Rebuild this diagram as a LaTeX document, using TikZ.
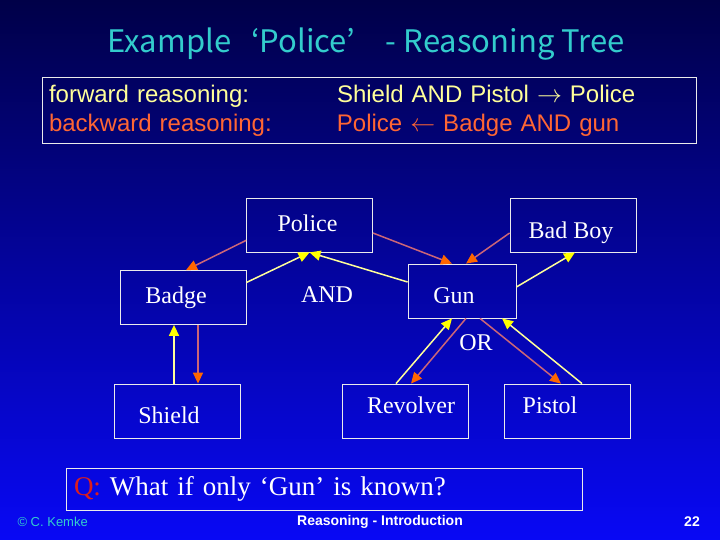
\documentclass[tikz,border=0pt]{standalone}
\usepackage{fontspec}
\setmainfont{Liberation Serif}
\setsansfont{Liberation Sans}
\newfontfamily\jpfont{Noto Sans CJK JP}
\usetikzlibrary{arrows.meta}
\definecolor{slidetop}{RGB}{0,0,72}
\definecolor{slidebot}{RGB}{8,8,245}
\definecolor{titlecyan}{RGB}{51,204,204}
\definecolor{fwdtext}{RGB}{255,255,153}
\definecolor{bwdtext}{RGB}{255,102,51}
\definecolor{fwdline}{RGB}{255,255,153}
\definecolor{fwdhead}{RGB}{255,255,0}
\definecolor{bwdline}{RGB}{204,102,119}
\definecolor{bwdhead}{RGB}{255,102,0}
\definecolor{qred}{RGB}{220,30,30}
% label moved inside its box: dx, dy, text
\newcommand{\nudge}[3]{\raisebox{#2}{\makebox[0pt]{\hspace*{#1}\hspace*{#1}#3}}}

\begin{document}
\begin{tikzpicture}[x=1pt, y=-1pt,
  box/.style={draw=white!92!black, line width=0.8pt, minimum width=126pt,
    minimum height=54pt, inner sep=0pt, text height=17pt, text depth=5pt,
    text=white, font=\fontsize{24}{28}\selectfont},
  op/.style={text=white, font=\fontsize{24}{28}\selectfont},
  fwdarr/.style={draw=fwdline, line width=1.5pt, -{Triangle[length=11pt,width=10pt,color=fwdhead]}},
  bwdarr/.style={draw=bwdline, line width=1.5pt, -{Triangle[length=11pt,width=10pt,color=bwdhead]}}]
  % Background
  \shade[top color=slidetop, bottom color=slidebot] (0,0) rectangle (720,540);
  \useasboundingbox (0,0) rectangle (720,540);

  % Define nodes
  \node[text=titlecyan, font=\jpfont\fontsize{31}{36}\selectfont] (title) at (366,44)
    {Example\hspace{20pt}‘Police’\hspace{30pt}-\hspace{8pt}Reasoning Tree};
  \node[draw=white!92!black, line width=0.8pt, minimum width=654pt, minimum height=65pt,
    inner sep=7pt, text width=640pt, align=left,
    font=\sffamily\fontsize{24}{29}\selectfont] (rules) at (369,110.5)
    {\color{fwdtext}\makebox[288pt][l]{forward reasoning:}Shield AND Pistol $\rightarrow$ Police\\
     \color{bwdtext}\makebox[288pt][l]{backward reasoning:}Police $\leftarrow$ Badge AND gun};

  \node[box] (police) at (309.5,225) {\nudge{-2pt}{0pt}{Police}};
  \node[box] (badboy) at (573,225) {\nudge{-2pt}{-8pt}{Bad Boy}};
  \node[box] (badge) at (183,297.5) {\nudge{-7pt}{0pt}{Badge}};
  \node[op] (and) at (327,295) {AND};
  \node[box, minimum width=108pt] (gun) at (462,291) {\nudge{-8pt}{-6pt}{Gun}};
  \node[op] (or) at (476,343) {OR};
  \node[box] (shield) at (177,411) {\nudge{-8pt}{-6pt}{Shield}};
  \node[box] (revolver) at (405,411) {\nudge{6pt}{4pt}{Revolver}};
  \node[box] (pistol) at (567,411) {\nudge{-17pt}{4pt}{Pistol}};

  \node[draw=white!92!black, line width=0.8pt, minimum width=516pt, minimum height=42pt,
    text width=500pt, inner sep=8pt, align=left, text=white,
    font=\fontsize{27}{30}\selectfont] (question) at (324,489)
    {\textcolor{qred}{Q:} What if only ‘Gun’ is known?};

  \node[anchor=west, text=titlecyan, font=\sffamily\fontsize{13}{15}\selectfont] (author) at (14,522) {© C. Kemke};
  \node[text=white, font=\sffamily\bfseries\fontsize{14}{16}\selectfont] (footer) at (380,522) {Reasoning - Introduction};
  \node[text=white, font=\sffamily\bfseries\fontsize{14}{16}\selectfont] (page) at (692,522) {22};

  % Draw arrows
  \draw[bwdarr] ([yshift=12pt]police.south west) -- ([xshift=3pt]badge.north);
  \draw[fwdarr] ([yshift=15pt]badge.east) -- (police.south);
  \draw[fwdarr] ([yshift=9pt]gun.west) -- (police.south);
  \draw[bwdarr] ([yshift=-8pt]police.east) -- ([xshift=-10pt]gun.north);
  \draw[bwdarr] ([yshift=-8pt]badboy.west) -- ([xshift=4pt]gun.north);
  \draw[fwdarr] ([yshift=4pt]gun.east) -- ([xshift=2pt]badboy.south);
  \draw[fwdarr] ([xshift=-3pt]shield.north) -- ([xshift=-9pt]badge.south);
  \draw[bwdarr] ([xshift=15pt]badge.south) -- ([xshift=21pt]shield.north);
  \draw[fwdarr] ([xshift=-9pt]revolver.north) -- ([xshift=-10pt]gun.south);
  \draw[bwdarr] ([xshift=4pt]gun.south) -- ([xshift=6pt]revolver.north);
  \draw[bwdarr] ([xshift=18pt]gun.south) -- ([xshift=-6pt]pistol.north);
  \draw[fwdarr] ([xshift=15pt]pistol.north) -- ([xshift=40pt]gun.south);
\end{tikzpicture}
\end{document}
